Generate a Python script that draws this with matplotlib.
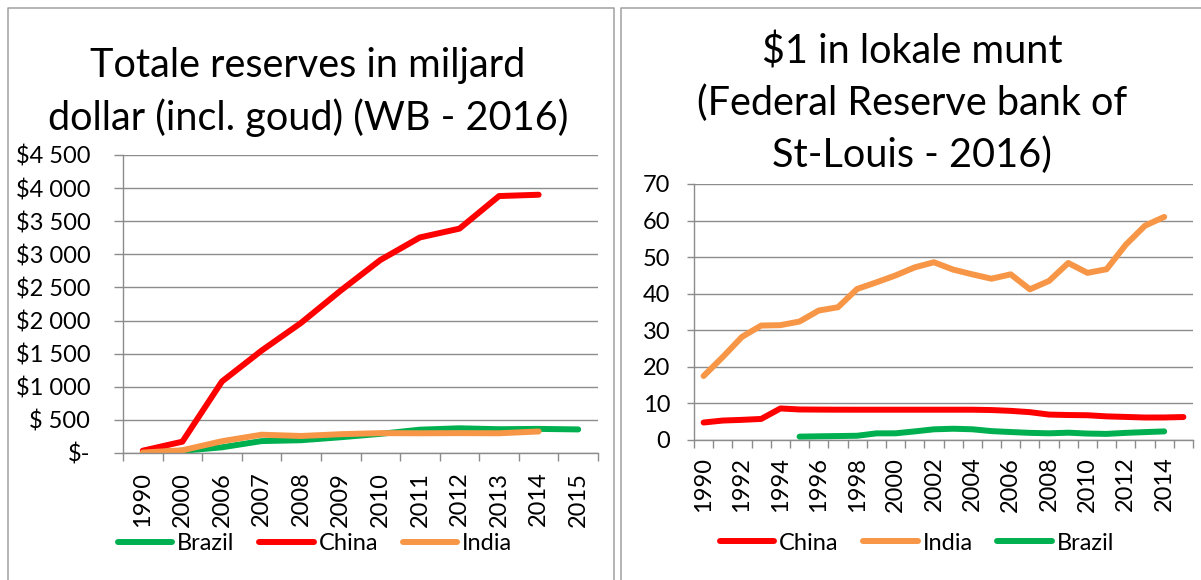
import numpy as np
import matplotlib
matplotlib.use("Agg")
import matplotlib.pyplot as plt
from matplotlib.lines import Line2D

plt.rcParams['font.family'] = ['Lato', 'DejaVu Sans']

# ---- left chart: total reserves (billion USD, incl. gold), World Bank 2016
res_years = ['1990', '2000', '2006', '2007', '2008', '2009', '2010',
             '2011', '2012', '2013', '2014', '2015']
res_brazil = [9, 33, 86, 180, 193, 238, 289, 352, 373, 359, 364, 356]
res_china = [35, 171, 1080, 1546, 1966, 2453, 2914, 3255, 3388, 3880, 3900, np.nan]
res_india = [6, 41, 178, 276, 257, 284, 300, 298, 300, 298, 325, np.nan]
res_ticks = [0, 500, 1000, 1500, 2000, 2500, 3000, 3500, 4000, 4500]
res_ticklabels = ['$-', '$ 500', '$1 000', '$1 500', '$2 000', '$2 500',
                  '$3 000', '$3 500', '$4 000', '$4 500']
res_title = ['Totale reserves in miljard', 'dollar (incl. goud) (WB - 2016)']

# ---- right chart: $1 in local currency, FRED 2016
fx_years = list(range(1990, 2016))
fx_china = [4.78, 5.32, 5.51, 5.76, 8.62, 8.35, 8.31, 8.29, 8.28, 8.28, 8.28,
            8.28, 8.28, 8.28, 8.28, 8.19, 7.97, 7.61, 6.95, 6.83, 6.77, 6.46,
            6.31, 6.15, 6.16, 6.28]
fx_india = [17.5, 22.7, 28.2, 31.3, 31.4, 32.4, 35.4, 36.3, 41.3, 43.1, 45.0,
            47.2, 48.6, 46.6, 45.3, 44.1, 45.3, 41.2, 43.5, 48.4, 45.7, 46.7,
            53.4, 58.6, 61.0, np.nan]
fx_brazil = [np.nan] * 5 + [0.92, 1.01, 1.08, 1.16, 1.81, 1.83, 2.35, 2.92,
                            3.08, 2.93, 2.43, 2.18, 1.95, 1.83, 2.00, 1.76,
                            1.67, 1.95, 2.16, 2.35, np.nan]
fx_ticks = [0, 10, 20, 30, 40, 50, 60, 70]
fx_title = ['$1 in lokale munt', '(Federal Reserve bank of', 'St-Louis - 2016)']

GREEN = '#00B050'
RED = '#FF0000'
ORANGE = '#F79646'
GRID = '#8C8C8C'
BORDER = '#A0A0A0'
FS = 17
TFS = 28.5
LW = 4.3

W, H = 1201, 580
fig = plt.figure(figsize=(W / 100, H / 100), dpi=100)


def px_axes(x0, y0, x1, y1):
    return fig.add_axes([x0 / W, 1 - y1 / H, (x1 - x0) / W, (y1 - y0) / H])


def style_axes(ax, n, ytick_len, ypad, xpad):
    ax.set_xlim(-0.5, n - 0.5)
    for s in ['top', 'right']:
        ax.spines[s].set_visible(False)
    for s in ['left', 'bottom']:
        ax.spines[s].set_color(GRID)
        ax.spines[s].set_linewidth(1.0)
    ax.grid(axis='y', color=GRID, linewidth=1.0)
    ax.set_axisbelow(True)
    ax.set_xticks(np.arange(-0.5, n, 1.0), minor=True)
    ax.tick_params(axis='x', which='minor', length=5.5, width=1.0, color=GRID)
    ax.tick_params(axis='x', which='major', length=0, pad=xpad,
                   labelsize=FS, rotation=90)
    ax.tick_params(axis='y', length=ytick_len, width=1.0, color=GRID,
                   pad=ypad, labelsize=FS)


# left chart
ax1 = px_axes(123, 155, 598, 453)
x1 = np.arange(len(res_years))
ax1.plot(x1, res_brazil, color=GREEN, lw=LW, solid_capstyle='round', solid_joinstyle='round')
ax1.plot(x1, res_china, color=RED, lw=LW, solid_capstyle='round', solid_joinstyle='round')
ax1.plot(x1, res_india, color=ORANGE, lw=LW, solid_capstyle='round', solid_joinstyle='round')
ax1.set_ylim(0, 4500)
ax1.set_yticks(res_ticks)
ax1.set_yticklabels(res_ticklabels)
ax1.set_xticks(x1)
ax1.set_xticklabels(res_years)
style_axes(ax1, len(res_years), 6.5, 17, 13.5)

# right chart
ax2 = px_axes(694, 184, 1193, 440)
x2 = np.arange(len(fx_years))
ax2.plot(x2, fx_china, color=RED, lw=LW, solid_capstyle='round', solid_joinstyle='round')
ax2.plot(x2, fx_india, color=ORANGE, lw=LW, solid_capstyle='round', solid_joinstyle='round')
ax2.plot(x2, fx_brazil, color=GREEN, lw=LW, solid_capstyle='round', solid_joinstyle='round')
ax2.set_ylim(0, 70)
ax2.set_yticks(fx_ticks)
ax2.set_xticks(x2[::2])
ax2.set_xticklabels([str(y) for y in fx_years[::2]])
style_axes(ax2, len(fx_years), 5, 12, 12)

# titles
for i, line in enumerate(res_title):
    fig.text(308 / W, 1 - (77 + 53 * i) / H, line, ha='center', va='baseline', fontsize=TFS)
for i, line in enumerate(fx_title):
    fig.text(912 / W, 1 - (63 + 52 * i) / H, line, ha='center', va='baseline', fontsize=TFS)


# legends
def legend(ax, names, colors, cx, cy):
    handles = [Line2D([], [], color=c, lw=LW, solid_capstyle='round') for c in colors]
    ax.legend(handles, names, loc='center', bbox_to_anchor=(cx / W, 1 - cy / H),
              bbox_transform=fig.transFigure, ncol=3, frameon=False, fontsize=FS,
              handlelength=2.3, handletextpad=0.2, columnspacing=1.05,
              borderpad=0, borderaxespad=0)


legend(ax1, ['Brazil', 'China', 'India'], [GREEN, RED, ORANGE], 315, 544)
legend(ax2, ['China', 'India', 'Brazil'], [RED, ORANGE, GREEN], 917, 543)

# panel borders
for xs, ys in [([8, 8, 614, 614], [H, 8, 8, H]), ([621, 621, W + 5], [H, 8, 8])]:
    fig.add_artist(Line2D([x / W for x in xs], [1 - y / H for y in ys],
                          transform=fig.transFigure, color=BORDER, lw=1.1))

fig.savefig('out.png', dpi=100)
